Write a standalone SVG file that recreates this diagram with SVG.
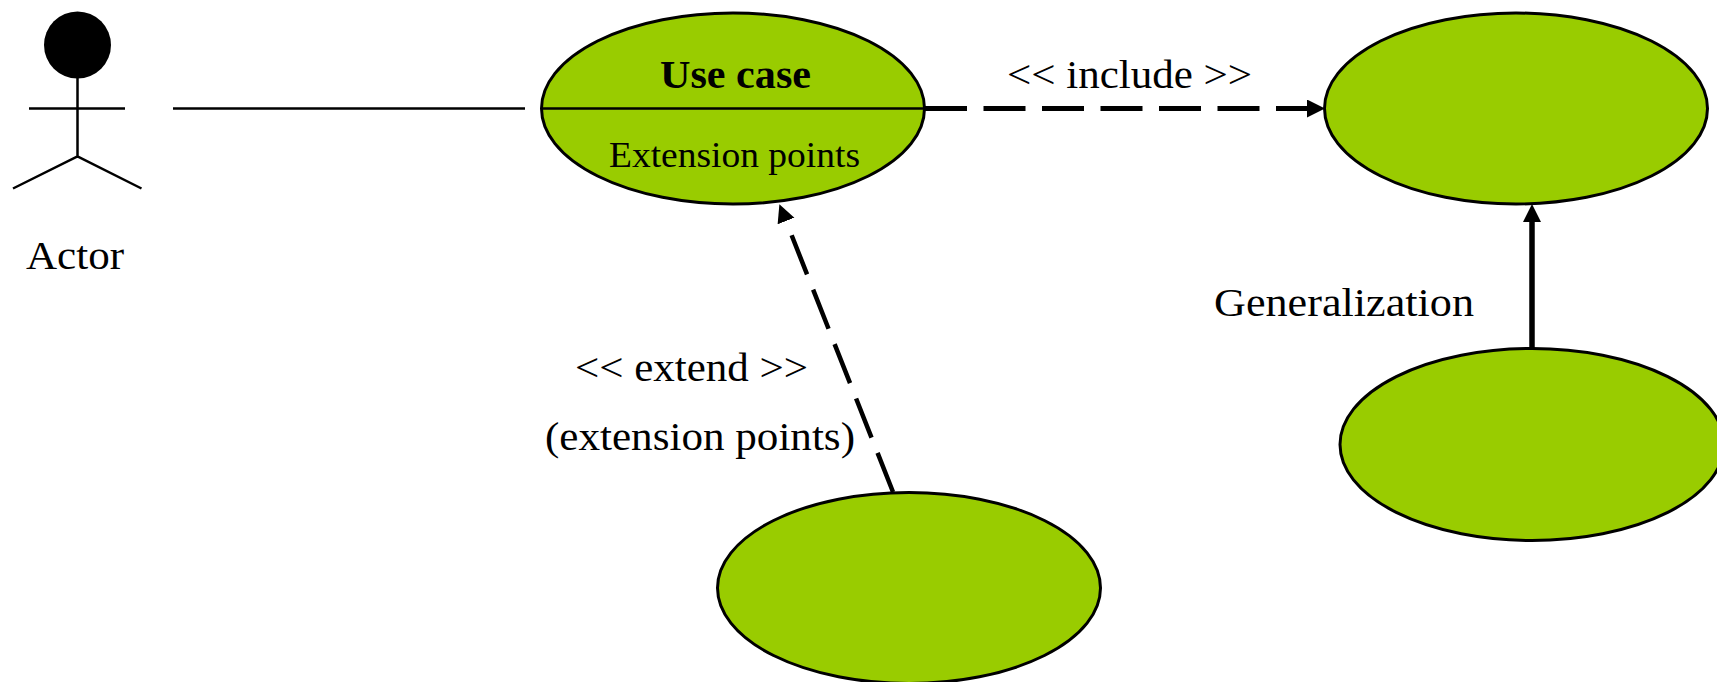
<svg xmlns="http://www.w3.org/2000/svg" width="1717" height="682" viewBox="0 0 1717 682">
<style>
.uc{fill:#99cc00;stroke:#000;stroke-width:3}
.ln{fill:none;stroke:#000;stroke-width:2.5}
.t{font-family:"Liberation Serif",serif;font-size:41px;fill:#000}
.dash{fill:none;stroke:#000;stroke-dasharray:42 16.5}
</style>
<defs>
<marker id="ah" markerUnits="userSpaceOnUse" markerWidth="20" markerHeight="20" refX="0" refY="9" orient="auto"><path d="M0 0L18 9L0 18Z" fill="#000"/></marker>
</defs>
<rect width="1717" height="682" fill="#fff"/>
<g id="connectors">
<line class="ln" x1="173" y1="108.500" x2="525" y2="108.500"/>
<line class="dash" stroke-width="5" x1="925" y1="108.500" x2="1307" y2="108.500" marker-end="url(#ah)"/>
<line class="dash" stroke-width="4.500" x1="893" y1="492" x2="786" y2="221" marker-end="url(#ah)"/>
<line fill="none" stroke="#000" stroke-width="5.500" x1="1532" y1="349" x2="1532" y2="222" marker-end="url(#ah)"/>
</g>
<g id="actor">
<ellipse cx="77.500" cy="45" rx="33.500" ry="33.500" fill="#000"/>
<path class="ln" d="M29 108.500H125M77.500 78V156.500M13 188.500L77.500 156.500L141.500 188.500"/>
<text class="t" x="26" y="269" textLength="98" lengthAdjust="spacingAndGlyphs">Actor</text>
</g>
<g id="usecase">
<ellipse class="uc" cx="733" cy="108.500" rx="191.500" ry="95.500"/>
<line class="ln" x1="541" y1="108.500" x2="925" y2="108.500"/>
<text class="t" x="660" y="88" textLength="151" lengthAdjust="spacingAndGlyphs" style="font-weight:bold;font-size:40px">Use case</text>
<text class="t" x="609" y="167" textLength="251" lengthAdjust="spacingAndGlyphs" style="font-size:35px">Extension points</text>
</g>
<g id="included"><ellipse class="uc" cx="1516" cy="108.500" rx="191.500" ry="95.500"/></g>
<g id="specialized"><ellipse class="uc" cx="1532" cy="444.500" rx="192" ry="96"/></g>
<g id="extending"><ellipse class="uc" cx="909" cy="588" rx="191.500" ry="95.500"/></g>
<g id="labels">
<text class="t" x="1007" y="88" textLength="245" lengthAdjust="spacingAndGlyphs">&lt;&lt; include &gt;&gt;</text>
<text class="t" x="575" y="381" textLength="233" lengthAdjust="spacingAndGlyphs">&lt;&lt; extend &gt;&gt;</text>
<text class="t" x="545" y="450" textLength="310" lengthAdjust="spacingAndGlyphs">(extension points)</text>
<text class="t" x="1214" y="316" textLength="260" lengthAdjust="spacingAndGlyphs">Generalization</text>
</g>
</svg>
